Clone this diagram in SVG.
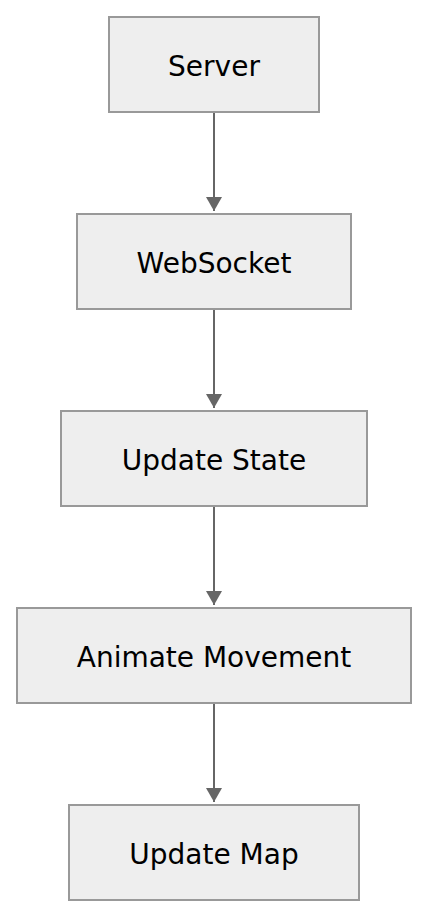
<svg xmlns="http://www.w3.org/2000/svg" width="428" height="917" viewBox="0 0 428 917">
<style>
.node rect{fill:#eeeeee;stroke:#999999;stroke-width:2}
.node text{font-family:"DejaVu Sans",Verdana,sans-serif;font-size:28px;fill:#000;text-anchor:middle;dominant-baseline:central}
.edge{stroke:#666666;stroke-width:2;fill:none}
</style>
<defs>
<marker id="arrow" markerUnits="userSpaceOnUse" markerWidth="14" markerHeight="16" refX="14" refY="8" orient="auto" viewBox="0 0 14 16">
<path d="M0,0 L14,8 L0,16 Z" fill="#666666"/>
</marker>
</defs>
<g id="connectors">
<line class="edge" x1="214" y1="112" x2="214" y2="211" marker-end="url(#arrow)"/>
<line class="edge" x1="214" y1="309" x2="214" y2="408" marker-end="url(#arrow)"/>
<line class="edge" x1="214" y1="506" x2="214" y2="605" marker-end="url(#arrow)"/>
<line class="edge" x1="214" y1="703" x2="214" y2="802" marker-end="url(#arrow)"/>
</g>
<g id="server" class="node"><rect x="109" y="17" width="210" height="95"/><text x="214" y="66">Server</text></g>
<g id="websocket" class="node"><rect x="77" y="214" width="274" height="95"/><text x="214" y="263">WebSocket</text></g>
<g id="update-state" class="node"><rect x="61" y="411" width="306" height="95"/><text x="214" y="460">Update State</text></g>
<g id="animate-movement" class="node"><rect x="17" y="608" width="394" height="95"/><text x="214" y="657">Animate Movement</text></g>
<g id="update-map" class="node"><rect x="69" y="805" width="290" height="95"/><text x="214" y="854">Update Map</text></g>
</svg>
